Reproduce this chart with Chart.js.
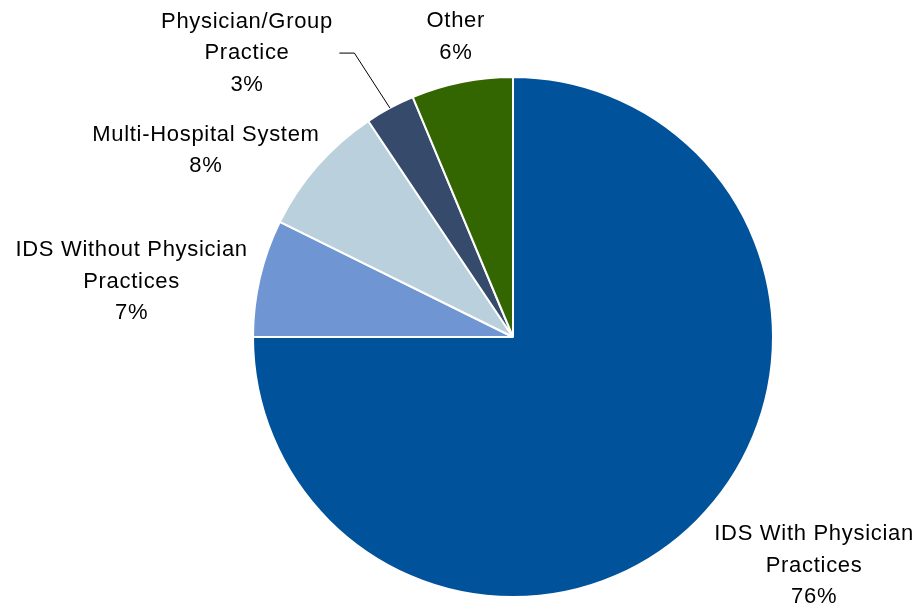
<!DOCTYPE html>
<html>
<head>
<meta charset="utf-8">
<script src="https://cdn.jsdelivr.net/npm/chart.js@4.4.0/dist/chart.umd.min.js"></script>
<style>
  html, body { margin: 0; padding: 0; background: #fff; }
  #wrap { width: 922px; height: 609px; }
</style>
</head>
<body>
<div id="wrap"><canvas id="pieChart"></canvas></div>
<script>
// Data (clockwise from 12 o'clock)
const categories = [
  ['IDS With Physician', 'Practices'],
  ['IDS Without Physician', 'Practices'],
  ['Multi-Hospital System'],
  ['Physician/Group', 'Practice'],
  ['Other']
];
const shares = [75.0, 7.3, 8.3, 3.1, 6.3];
const percentLabels = ['76%', '7%', '8%', '3%', '6%'];
const sliceColors = ['#00529b', '#6f96d2', '#bad0dc', '#364b6b', '#336600'];

// label placement, in units of the pie radius from its centre
const labelOffsets = [
  [1.158, 0.880],
  [-1.467, -0.212],
  [-1.181, -0.718],
  [-1.023, -1.092],
  [-0.220, -1.154]
];

const outsideLabels = {
  id: 'outsideLabels',
  afterDraw(chart) {
    const ctx = chart.ctx;
    const arcs = chart.getDatasetMeta(0).data;
    ctx.save();
    ctx.font = '22px "Liberation Sans", Arial, sans-serif';
    ctx.letterSpacing = '0.7px';
    ctx.fillStyle = '#000';
    ctx.textAlign = 'center';
    ctx.textBaseline = 'middle';
    const lineH = 31.5;
    arcs.forEach((arc, i) => {
      const r = arc.outerRadius;
      const lx = arc.x + labelOffsets[i][0] * r;
      const ly = arc.y + labelOffsets[i][1] * r;
      const lines = categories[i].concat([percentLabels[i]]);
      const top = ly - (lines.length - 1) * lineH / 2;
      lines.forEach((t, k) => ctx.fillText(t, lx, top + k * lineH));
    });

    // leader line for the small Physician/Group slice
    const a = arcs[3];
    const mid = (a.startAngle + a.endAngle) / 2;
    const ex = a.x + Math.cos(mid) * a.outerRadius;
    const ey = a.y + Math.sin(mid) * a.outerRadius;
    const r = a.outerRadius;
    ctx.strokeStyle = '#000';
    ctx.lineWidth = 1;
    ctx.beginPath();
    ctx.moveTo(a.x - 0.668 * r, a.y - 1.092 * r);
    ctx.lineTo(a.x - 0.610 * r, a.y - 1.092 * r);
    ctx.lineTo(ex, ey);
    ctx.stroke();
    ctx.restore();
  }
};

new Chart(document.getElementById('pieChart'), {
  type: 'pie',
  data: {
    labels: categories.map(c => c.join(' ')),
    datasets: [{
      data: shares,
      backgroundColor: sliceColors,
      borderColor: '#ffffff',
      borderWidth: 2
    }]
  },
  options: {
    responsive: true,
    maintainAspectRatio: false,
    animation: false,
    layout: {
      padding: { left: 252, right: 148, top: 76, bottom: 11 }
    },
    plugins: {
      legend: { display: false },
      tooltip: { enabled: false }
    }
  },
  plugins: [outsideLabels]
});
</script>
</body>
</html>
